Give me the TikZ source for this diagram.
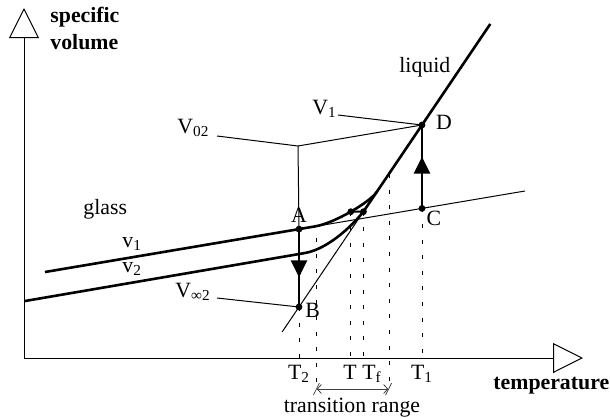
\documentclass[tikz,border=0pt]{standalone}
\usepackage{fontspec}
\setmainfont{Liberation Serif}
\usetikzlibrary{arrows.meta, decorations.markings, calc}

\begin{document}
\begin{tikzpicture}[
    x=0.5pt, y=-0.5pt,
    font=\fontsize{10.9}{12}\selectfont,
    axisline/.style={draw, line width=0.5pt, -{Triangle[open, length=15pt, width=15pt]}},
    curve/.style={draw, line width=1.3pt, line join=round},
    thinline/.style={draw, line width=0.5pt},
    guide/.style={draw, line width=0.45pt, dash pattern=on 2pt off 5.8pt},
    dot/.style={circle, fill, inner sep=0pt, minimum size=3.4pt},
    lbl/.style={inner sep=0pt, anchor=base west},
    ticklbl/.style={inner sep=0pt, anchor=base},
    jump/.style={draw, line width=1.3pt, postaction={decorate},
        decoration={markings, mark=at position 0.62 with {\arrow{Triangle[length=8.5pt, width=8pt]}}}},
    rangebar/.style={draw, line width=0.4pt, black!75,
        {Bar[width=6pt, slant=.5]Straight Barb[length=2pt, width=4.5pt]}-{Straight Barb[length=2pt, width=4.5pt]Bar[width=6pt, slant=.5]}}
]
\useasboundingbox (0,0) rectangle (610,418);

% axes
\coordinate (O) at (24,358);
\draw[axisline] (O) -- (24,8);
\draw[axisline] (O) -- (583,358);
\node[lbl, font=\fontsize{10.9}{12}\selectfont\bfseries] (ylab1) at (50,22) {specific};
\node[lbl, font=\fontsize{10.9}{12}\selectfont\bfseries] (ylab2) at (50,49) {volume};
\node[lbl, font=\fontsize{10.9}{12}\selectfont\bfseries] (xlab) at (493,389) {temperature};

% key points
\coordinate (B) at (299,307);
\coordinate (D) at (422,125);
\coordinate (A) at (299,229.1);
\coordinate (C) at (422,208.4);
\coordinate (Ltop) at ($(B)!1.555!(D)$);
\coordinate (Lbot) at ($(B)!-0.137!(D)$);
\coordinate (K) at (298,146);

% thin extrapolated lines
\draw[thinline] (45,272) -- (525,191);
\draw[thinline] (Lbot) -- (Ltop);

% glass curves v1, v2 and liquid
\draw[curve] (45,272) -- (315,226.4)
    .. controls (335,223) and (370,202) .. (376.7,192) coordinate[pos=0.5] (Tpt);
\draw[curve] (25,301) -- (305,253)
    .. controls (330,248.7) and (357.1,221) .. (365.2,209) -- (Ltop);

\coordinate (Tq) at ($(Tpt)+(50,0)$);
\coordinate (Tf) at (intersection of Tpt--Tq and B--D);
\draw[line width=1pt] (Tpt) -- (Tf);

% leaders
\coordinate (v02end) at (217,136);
\coordinate (v1end) at (338,115);
\coordinate (vinfend) at (217,298);
\draw[thinline] (v02end) -- (K) -- (D);
\draw[thinline] (K) -- (A);
\draw[thinline] (v1end) -- (D);
\draw[thinline] (vinfend) -- (B);

% jumps
\draw[jump] (A) -- (B);
\draw[jump] (C) -- (D);

% dashed guides
\coordinate (trL) at (316,238);
\coordinate (trR) at (389,174);
\draw[guide] (B) -- (B |- O);
\draw[guide] (trL) -- (316,392);
\draw[guide] (Tpt) -- (Tpt |- O);
\draw[guide] (Tf) -- (Tf |- O);
\draw[guide] (trR) -- (389,392);
\draw[guide] (C) -- (C |- O);
\draw[rangebar] (316,389) -- (389,389);

% dots
\foreach \p in {A,B,C,D,Tpt,Tf}
    \node[dot] at (\p) {};

% labels
\node[ticklbl] (labA) at (299,222) {A};
\node[lbl] (labB) at (305,317) {B};
\node[ticklbl] (labC) at (434,225) {C};
\node[ticklbl] (labD) at (444,129) {D};
\node[lbl] (labV1) at (312,114) {V\textsubscript{1}};
\node[lbl] (labV02) at (177,133) {V\textsubscript{02}};
\node[lbl] (labVinf) at (175,297) {V\textsubscript{∞2}};
\node[lbl] (glass) at (83,214) {glass};
\node[lbl] (liquid) at (399,72) {liquid};
\node[lbl] (labv1) at (122,247) {v\textsubscript{1}};
\node[lbl] (labv2) at (122,272) {v\textsubscript{2}};
\node[ticklbl] (labT2) at (299,379) {T\textsubscript{2}};
\node[ticklbl] (labT) at (350,379) {T};
\node[ticklbl] (labTf) at (372,379) {T\textsubscript{f}};
\node[ticklbl] (labT1) at (422,379) {T\textsubscript{1}};
\node[ticklbl] (labrange) at (352,412) {transition range};
\end{tikzpicture}
\end{document}
